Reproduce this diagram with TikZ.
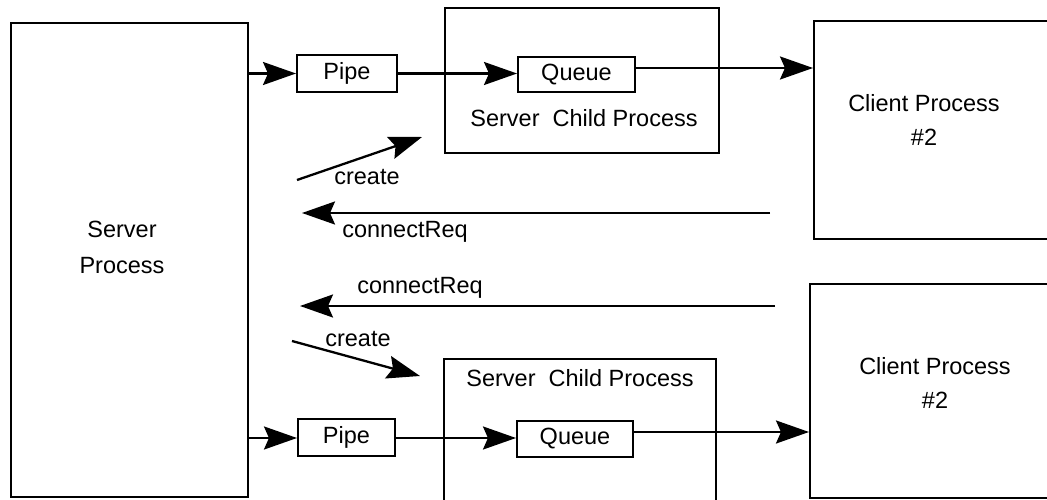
\documentclass[tikz,border=0pt]{standalone}
\usepackage{fontspec}
\setmainfont{Liberation Sans}
\usetikzlibrary{arrows.meta}
\begin{document}
\begin{tikzpicture}[x=1pt,y=-1pt,
  box/.style={draw,line width=2pt,rectangle,inner sep=0pt,anchor=north west},
  lbl/.style={font=\fontsize{23.5}{28}\selectfont,inner sep=0pt},
  flow/.style={line width=2.3pt,-{Stealth[length=33pt,width=23pt,inset=5pt]}}]
\useasboundingbox (0,0) rectangle (1047,500);
\clip (0,0) rectangle (1047,500);
% processes
\node[box,minimum width=237pt,minimum height=474pt] (srv) at (10,22) {};
\node[box,minimum width=274pt,minimum height=145pt] (ch1) at (444,7) {};
\node[box,minimum width=272pt,minimum height=170pt] (ch2) at (443,358) {};
\node[box,minimum width=260pt,minimum height=218pt] (cl1) at (813,20) {};
\node[box,minimum width=260pt,minimum height=214pt] (cl2) at (809,283) {};
% pipes and queues
\node[box,minimum width=100pt,minimum height=37pt] (p1) at (296,54) {};
\node[box,minimum width=117pt,minimum height=35pt] (q1) at (517,56) {};
\node[box,minimum width=97pt,minimum height=37pt] (p2) at (297,418) {};
\node[box,minimum width=116pt,minimum height=36pt] (q2) at (516,420) {};
% texts
\node[lbl] at (p1.center) {Pipe};
\node[lbl] at (q1.center) {Queue};
\node[lbl] at (p2.center) {Pipe};
\node[lbl] at (q2.center) {Queue};
\node[lbl,align=center] at (122,247) {Server\\[8pt]Process};
\node[lbl] at (584,118) {Server\ \ Child Process};
\node[lbl] at (580,378) {Server\ \ Child Process};
\node[lbl,align=center] at (924,120) {Client Process\\[6pt]\#2};
\node[lbl,align=center] at (935,383) {Client Process\\[6pt]\#2};
% data flow
\draw[flow] (srv.east |- p1.west) -- (p1.west);
\draw[flow] (p1.east) -- (q1.west |- p1.east);
\draw[flow] (q1.east |- 0,68) -- (cl1.west |- 0,68);
\draw[flow] (srv.east |- 0,438) -- (p2.west |- 0,438);
\draw[flow] (p2.east |- 0,438) -- (q2.west |- 0,438);
\draw[flow] (q2.east |- 0,432) -- (cl2.west |- 0,432);
% requests and creation
\coordinate (c1s) at (297,180);
\coordinate (c1e) at (422,137);
\coordinate (r1s) at (770,213);
\coordinate (r1e) at (302,213);
\coordinate (r2s) at (775,306);
\coordinate (r2e) at (300,306);
\coordinate (c2s) at (292,341);
\coordinate (c2e) at (420,376);
\draw[flow] (c1s) -- (c1e);
\draw[flow] (r1s) -- (r1e);
\draw[flow] (r2s) -- (r2e);
\draw[flow] (c2s) -- (c2e);
\node[lbl] at (367,177) {create};
\node[lbl] at (405,232) {connectReq};
\node[lbl] at (420,288) {connectReq};
\node[lbl] at (358,339) {create};
\end{tikzpicture}
\end{document}
